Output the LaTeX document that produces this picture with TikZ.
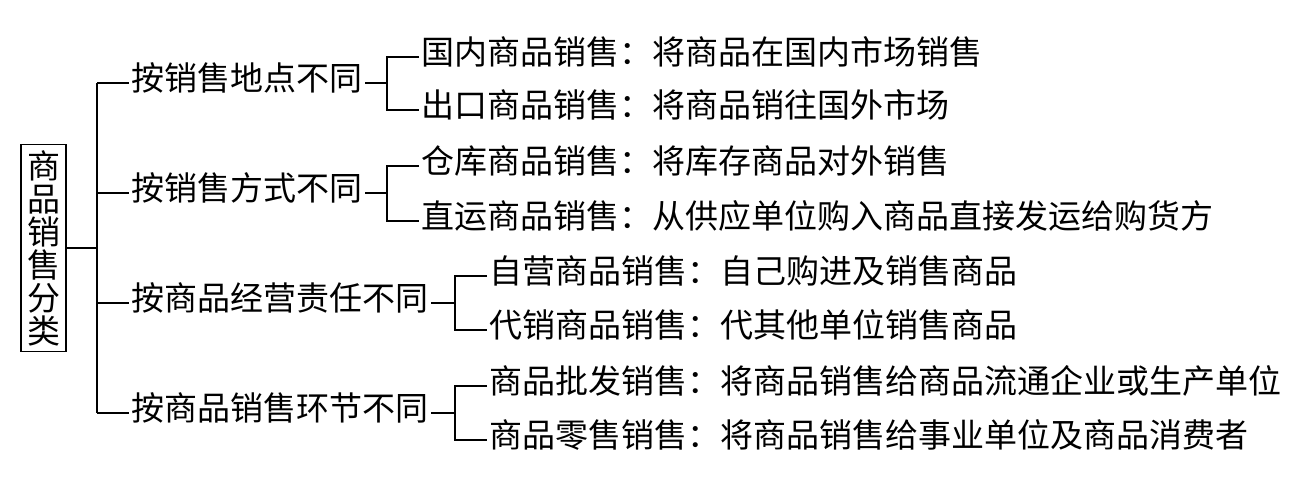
\documentclass[tikz,border=0pt]{standalone}
\usepackage{fontspec}
\newfontfamily\cjk{Noto Sans CJK SC}
\usepackage{tikz}
\usetikzlibrary{positioning}

\begin{document}
\begin{tikzpicture}[x=0.5pt, y=-0.5pt, line width=0.6pt,
  every node/.style={font=\cjk\fontsize{16.5}{16.5}\selectfont, text height=0.88em, text depth=0.12em},
  item/.style={anchor=west, inner xsep=1pt, inner ysep=0pt},
  rootbox/.style={draw, text width=16.5pt, align=center, inner sep=3pt, text height=, text depth=}]
\useasboundingbox (0,0) rectangle (1312,485);

\node [rootbox] (root) at (43.5,248) {商\\品\\销\\售\\分\\类};

% trunk
\coordinate (t0) at (97,248);
\coordinate (t1) at (97,83);
\coordinate (t2) at (97,193);
\coordinate (t3) at (97,303);
\coordinate (t4) at (97,413);

\node [item] (c1) at (129,83) {按销售地点不同};
\node [item] (c2) at (129,193) {按销售方式不同};
\node [item] (c3) at (129,303) {按商品经营责任不同};
\node [item] (c4) at (129,413) {按商品销售环节不同};

% brackets
\coordinate (b1) at (387,83);
\coordinate (b2) at (387,193);
\coordinate (b3) at (455,303);
\coordinate (b4) at (455,413);

\node [item] (c1a) at (419,57) {国内商品销售：将商品在国内市场销售};
\node [item] (c1b) at (419,110) {出口商品销售：将商品销往国外市场};
\node [item] (c2a) at (419,166) {仓库商品销售：将库存商品对外销售};
\node [item] (c2b) at (419,221) {直运商品销售：从供应单位购入商品直接发运给购货方};
\node [item] (c3a) at (487,276) {自营商品销售：自己购进及销售商品};
\node [item] (c3b) at (487,330) {代销商品销售：代其他单位销售商品};
\node [item] (c4a) at (487,386) {商品批发销售：将商品销售给商品流通企业或生产单位};
\node [item] (c4b) at (487,440) {商品零售销售：将商品销售给事业单位及商品消费者};

\draw (root) -- (t0);
\draw (t1) -- (t4);
\draw (t1) -- (c1.west);
\draw (t2) -- (c2.west);
\draw (t3) -- (c3.west);
\draw (t4) -- (c4.west);

\draw (c1.east) -- (b1);
\draw (c2.east) -- (b2);
\draw (c3.east) -- (b3);
\draw (c4.east) -- (b4);

\draw (c1a.west) -| (b1) |- (c1b.west);
\draw (c2a.west) -| (b2) |- (c2b.west);
\draw (c3a.west) -| (b3) |- (c3b.west);
\draw (c4a.west) -| (b4) |- (c4b.west);

\end{tikzpicture}
\end{document}
